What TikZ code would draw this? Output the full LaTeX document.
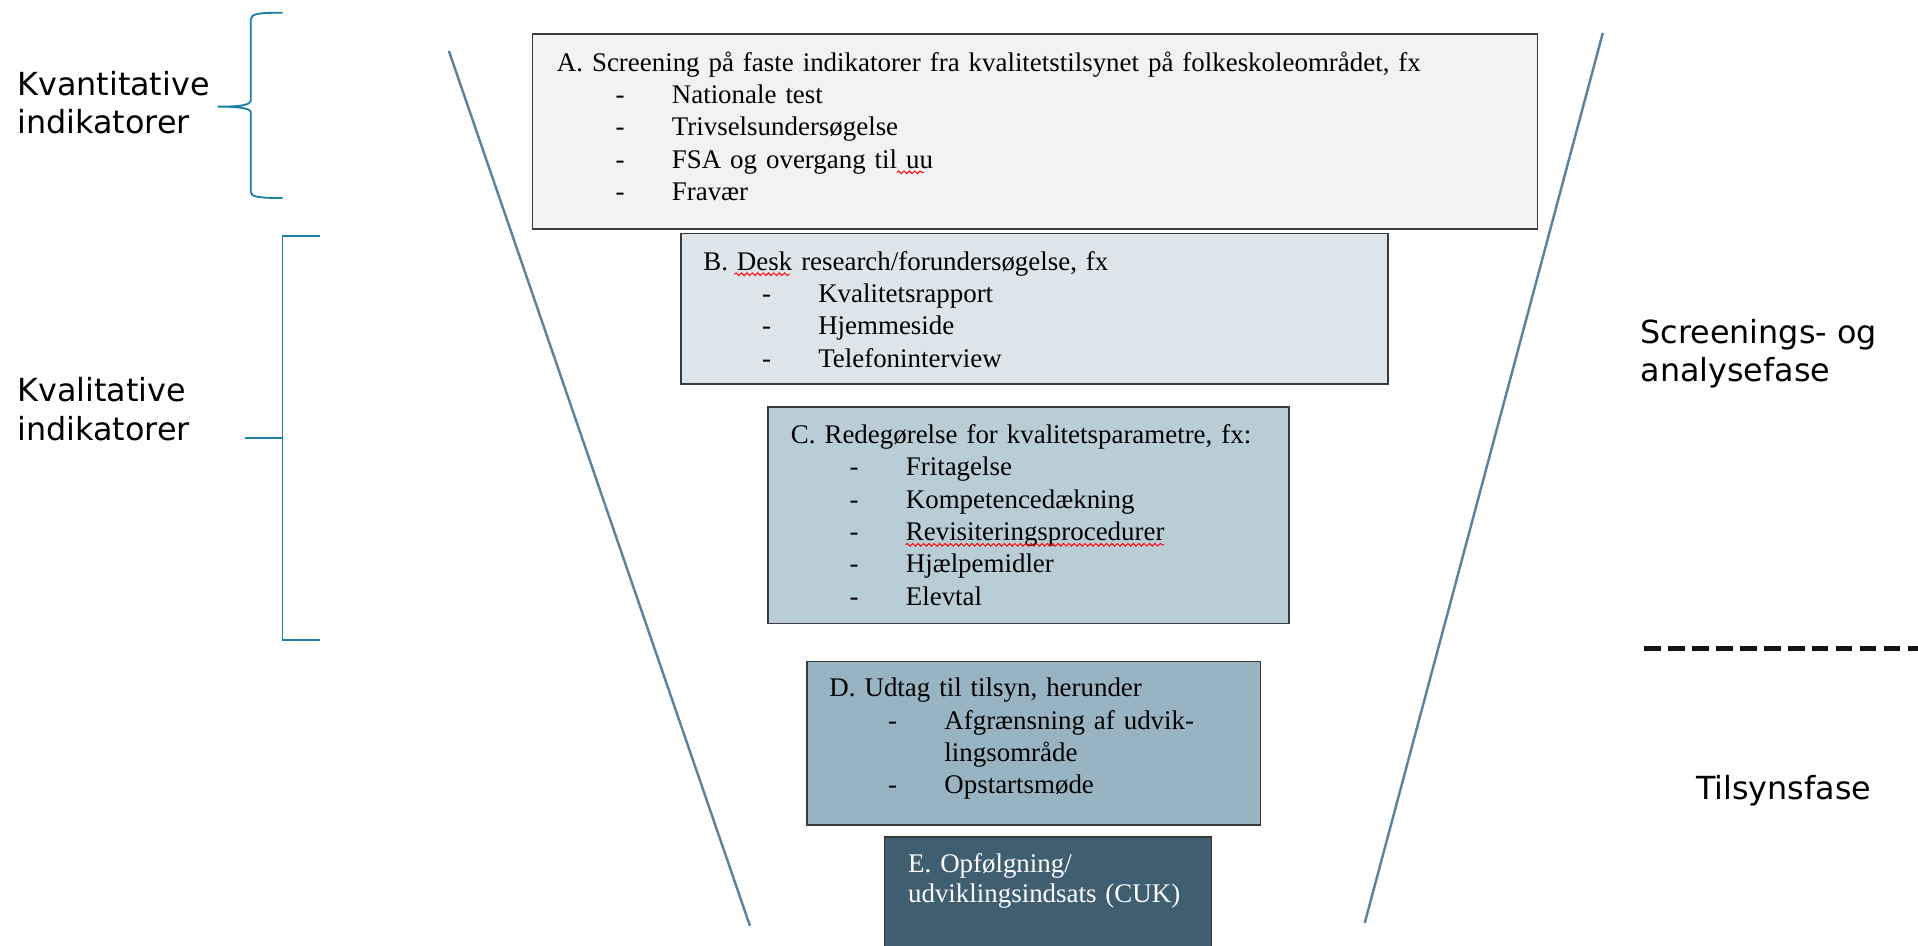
\documentclass[tikz,border=0pt]{standalone}
\usepackage{fontspec}
\usetikzlibrary{positioning,calc,decorations.pathmorphing}
\setlength{\parindent}{0pt}

\newfontfamily\boksfont{Liberation Serif}
\newfontfamily\etiketfont{DejaVu Sans}

\definecolor{fillA}{HTML}{F2F2F2}
\definecolor{fillB}{HTML}{DDE5EB}
\definecolor{fillC}{HTML}{B9CDD7}
\definecolor{fillD}{HTML}{98B3C2}
\definecolor{fillE}{HTML}{3F5E70}
\definecolor{boksrand}{HTML}{3A3A3A}
\definecolor{tragt}{HTML}{5B83A0}
\definecolor{klamme}{HTML}{1C80A6}

% dash and indent of the list lines
\newcommand{\punkt}[1]{\hspace*{48pt}\makebox[46pt][l]{-}#1}
\newcommand{\boksskrift}{\boksfont\fontsize{22}{26.4}\selectfont}
\newlength{\maal}\newlength{\maalb}

\tikzset{
  boks/.style={draw=boksrand, line width=1.2pt, inner sep=0pt, anchor=north west},
  tekst/.style={inner sep=0pt, text width=760pt, align=left,
    font=\boksskrift,
    execute at begin node={\rule{0pt}{22pt}}},
  etiket/.style={inner sep=0pt, align=left,
    font={\etiketfont\fontsize{26}{31.2}\selectfont}},
  klammestreg/.style={draw=klamme, line width=1.5pt},
  tragtstreg/.style={draw=tragt, line width=2pt},
  stiplet/.style={draw=black!92, line width=3.8pt, dash pattern=on 13.6pt off 6pt},
  stavefejl/.style={draw=red, line width=0.8pt, decorate,
    decoration={snake, amplitude=1.1pt, segment length=4.4pt}}
}

\begin{document}
% widths for the red spell-check waves
\settowidth{\maal}{\boksskrift uu}\pgfmathsetmacro{\uuLang}{\maal}
\settowidth{\maalb}{\boksskrift FSA og overgang til uu}\pgfmathsetmacro{\uuStart}{\maalb-\maal}
\settowidth{\maal}{\boksskrift Desk}\pgfmathsetmacro{\deskLang}{\maal}
\settowidth{\maalb}{\boksskrift B. Desk}\pgfmathsetmacro{\deskStart}{\maalb-\maal}
\settowidth{\maal}{\boksskrift Revisiteringsprocedurer}\pgfmathsetmacro{\revLang}{\maal}
\begin{tikzpicture}[x=1pt,y=-1pt]
\useasboundingbox (0,0) rectangle (1568,772.6);

% funnel
\coordinate (vTop) at (367,41.7);
\coordinate (vBund) at (613.1,756.9);
\coordinate (hTop) at (1310.3,27);
\coordinate (hBund) at (1115.7,754.5);
\draw[tragtstreg] (vTop) -- (vBund);
\draw[tragtstreg] (hTop) -- (hBund);

% boxes
\node[boks, fill=fillA, minimum width=821.6pt, minimum height=159.5pt] (boxA) at (434.7,27.2) {};
\node[boks, fill=fillB, minimum width=578.2pt, minimum height=123.2pt] (boxB) at (556,190.2) {};
\node[boks, fill=fillC, minimum width=426.1pt, minimum height=177pt] (boxC) at (627.2,332) {};
\node[boks, fill=fillD, minimum width=370.7pt, minimum height=134pt] (boxD) at (659.1,540) {};
\node[boks, fill=fillE, minimum width=267.5pt, minimum height=110pt] (boxE) at (722.5,683.5) {};

\node[tekst, below right=8.8pt and 20.4pt of boxA.north west] (tekstA)
  {A. Screening på faste indikatorer fra kvalitetstilsynet på folkeskoleområdet, fx\\
   \punkt{Nationale test}\\
   \punkt{Trivselsundersøgelse}\\
   \punkt{FSA og overgang til uu}\\
   \punkt{Fravær}};
\node[tekst, below right=8.5pt and 18.8pt of boxB.north west] (tekstB)
  {B. Desk research/forundersøgelse, fx\\
   \punkt{Kvalitetsrapport}\\
   \punkt{Hjemmeside}\\
   \punkt{Telefoninterview}};
\node[tekst, below right=8.5pt and 19.2pt of boxC.north west] (tekstC)
  {C. Redegørelse for kvalitetsparametre, fx:\\
   \punkt{Fritagelse}\\
   \punkt{Kompetencedækning}\\
   \punkt{Revisiteringsprocedurer}\\
   \punkt{Hjælpemidler}\\
   \punkt{Elevtal}};
\node[tekst, below right=7.6pt and 18.8pt of boxD.north west] (tekstD)
  {D. Udtag til tilsyn, herunder\\
   \punkt{Afgrænsning af udvik-}\\
   \hspace*{94pt}lingsområde\\
   \punkt{Opstartsmøde}};
\node[tekst, text=white, font={\boksfont\fontsize{22}{24.5}\selectfont},
  below right=7.3pt and 19.7pt of boxE.north west] (tekstE)
  {E. Opfølgning/\\udviklingsindsats (CUK)};

% red spell-check waves
\draw[stavefejl] ($(tekstA.north west)+({94+\uuStart},104.9)$) -- ++(\uuLang,0);
\draw[stavefejl] ($(tekstB.north west)+(\deskStart,25.5)$) -- ++(\deskLang,0);
\draw[stavefejl] ($(tekstC.north west)+(94,104.9)$) -- ++(\revLang,0);

% brackets on the left
\draw[klammestreg] (231,10.4) .. controls (212,10.4) and (205,11) .. (205,16)
  -- (205,82) .. controls (205,86) and (196,87.2) .. (178,87.2)
  .. controls (196,87.2) and (205,88.5) .. (205,92)
  -- (205,157) .. controls (205,161) and (212,161.9) .. (231,161.9);
\draw[klammestreg] (262,193) -- (231,193) -- (231,523) -- (262,523);
\draw[klammestreg, line width=2.2pt] (200,358) -- (231,358);

\node[etiket, anchor=north west, execute at begin node={\rule{0pt}{24pt}}] (kvantitativ) at (14,58)
  {Kvantitative\\indikatorer};
\node[etiket, anchor=north west, execute at begin node={\rule{0pt}{24pt}}] (kvalitativ) at (14,308.6)
  {Kvalitative\\indikatorer};

% phases on the right
\node[etiket, anchor=north west, execute at begin node={\rule{0pt}{24pt}}] (screening) at (1341,260.5)
  {Screenings- og\\analysefase};
\draw[stiplet] (1344,530) -- (1580,530);
\node[etiket, anchor=base west] (tilsyn) at (1386.5,653.7) {Tilsynsfase};

\end{tikzpicture}
\end{document}
